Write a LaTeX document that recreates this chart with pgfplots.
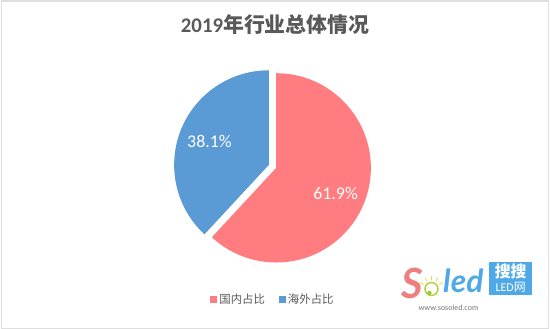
\documentclass[border=0pt]{standalone}
\usepackage{fontspec}
\setmainfont{Carlito}
\newfontfamily\cjk{Noto Sans CJK SC}
\newfontfamily\logofont{Lato}
\usepackage{pgfplots}
\usepackage{pgfplotstable}
\pgfplotsset{compat=1.18}
\definecolor{pieRed}{HTML}{FF7C80}
\definecolor{pieBlue}{HTML}{5B9BD5}
\definecolor{txtGray}{HTML}{595959}
\definecolor{logoPink}{HTML}{EE7F80}
\definecolor{logoBlue}{HTML}{4FA9E6}
\definecolor{logoGreen}{HTML}{9ACD32}
\definecolor{logoYellow}{HTML}{F2D64B}
\pgfplotstableread{
label value
国内占比 61.9
海外占比 38.1
}\piedata
\begin{document}
\begin{tikzpicture}
% values and angles
\pgfplotstablegetelem{0}{value}\of\piedata \let\va\pgfplotsretval
\pgfplotstablegetelem{1}{value}\of\piedata \let\vb\pgfplotsretval
\pgfmathsetmacro\cx{272.5}\pgfmathsetmacro\cy{163}
\pgfmathsetmacro\R{95}
\pgfmathsetmacro\ex{4}
\pgfmathsetmacro\sweepA{\va*3.6}
\pgfmathsetmacro\endA{90-\sweepA}
\pgfmathsetmacro\midA{90-\sweepA/2}
\pgfmathsetmacro\endB{\endA+360}
\pgfmathsetmacro\midB{(90+\endB)/2}
\pgfmathsetmacro\rax{\cx+\ex*cos(\midA)}\pgfmathsetmacro\ray{\cy+\ex*sin(\midA)}
\pgfmathsetmacro\rbx{\cx+\ex*cos(\midB)}\pgfmathsetmacro\rby{\cy+\ex*sin(\midB)}
\pgfmathsetmacro\lax{\cx+68*cos(\midA)}\pgfmathsetmacro\lay{\cy+68*sin(\midA)-2}
\pgfmathsetmacro\lbx{\cx+68*cos(\midB)}\pgfmathsetmacro\lby{\cy+68*sin(\midB)}
\begin{axis}[
  width=550bp, height=330bp, scale only axis,
  xmin=0, xmax=550, ymin=0, ymax=330,
  hide axis, clip=false,
  legend style={at={(axis cs:273,29)}, anchor=center, draw=none, fill=none,
    legend columns=2, font=\cjk\fontsize{11.5}{13}\selectfont, text=txtGray,
    /tikz/every even column/.append style={column sep=12bp},
    inner sep=0pt, nodes={inner sep=2bp}},
  legend image code/.code={\fill[#1] (0bp,-3.5bp) rectangle (7bp,3.5bp);},
]
\addlegendimage{fill=pieRed, draw=none}
\addlegendentry{国内占比}
\addlegendimage{fill=pieBlue, draw=none}
\addlegendentry{海外占比}
% frame
\draw[black!13, line width=1bp] (axis cs:0.5,0.5) rectangle (axis cs:549.5,329.5);
\draw[black!13, line width=2bp] (axis cs:0,329) -- (axis cs:550,329);
% title
\node[font=\fontsize{21}{25}\selectfont\bfseries, text=txtGray] at (axis cs:275,305) {2019\cjk 年行业总体情况};
% pie slices
\fill[pieRed] (axis cs:\rax,\ray) -- ++(90:\R bp) arc[start angle=90, end angle=\endA, radius=\R bp] -- cycle;
\fill[pieBlue] (axis cs:\rbx,\rby) -- ++(90:\R bp) arc[start angle=90, end angle=\endB, radius=\R bp] -- cycle;
\node[text=white, font=\fontsize{18}{20}\selectfont] at (axis cs:\lax,\lay) {\va\%};
\node[text=white, font=\fontsize{18}{20}\selectfont] at (axis cs:\lbx,\lby) {\vb\%};
% watermark logo
\node[font=\logofont\fontsize{42}{42}\selectfont\bfseries\itshape, text=logoPink] at (axis cs:413,46) {S};
\draw[logoGreen!70!logoYellow, line width=1.5bp] (axis cs:432,40) circle[radius=6.5bp];
\fill[logoGreen] (axis cs:430,36) circle[radius=2.2bp];
\draw[logoYellow, line width=0.8bp] (axis cs:432,40) ++(30:9bp) -- ++(30:4bp);
\draw[logoYellow, line width=0.8bp] (axis cs:432,40) ++(60:9bp) -- ++(60:4bp);
\draw[logoYellow, line width=0.8bp] (axis cs:432,40) ++(90:9bp) -- ++(90:4bp);
\draw[logoYellow, line width=0.8bp] (axis cs:432,40) ++(120:9bp) -- ++(120:4bp);
\draw[logoYellow, line width=0.8bp] (axis cs:432,40) ++(150:9bp) -- ++(150:4bp);
\node[font=\logofont\fontsize{32}{32}\selectfont\bfseries\itshape, text=logoBlue] at (axis cs:464,48) {led};
\fill[logoBlue] (axis cs:490,34) rectangle (axis cs:533,67);
\node[font=\cjk\fontsize{16}{16}\selectfont\bfseries, text=white] at (axis cs:511.5,57.5) {搜搜};
\node[font=\fontsize{12}{12}\selectfont, text=white] at (axis cs:511.5,42) {LED\cjk 网};
\node[font=\logofont\fontsize{7.5}{8}\selectfont, text=black!55] at (axis cs:449,21) {www.sosoled.com};
\end{axis}
\end{tikzpicture}
\end{document}
